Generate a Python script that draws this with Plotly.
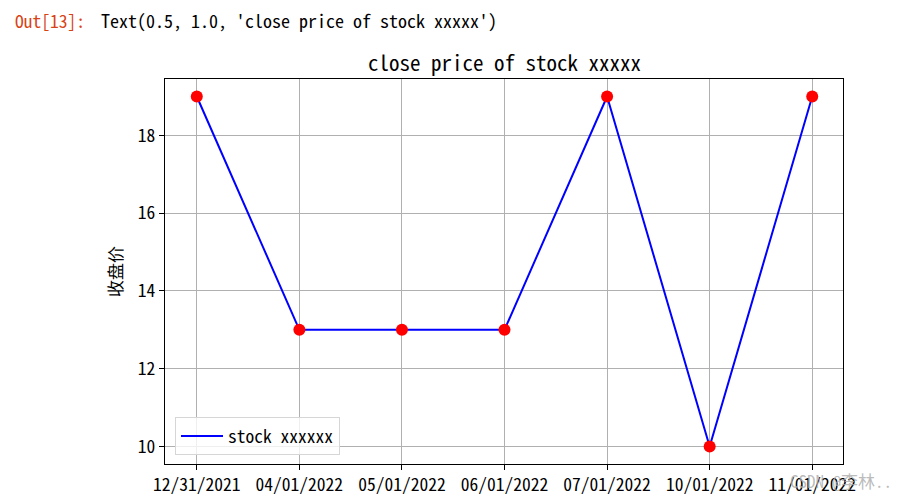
import plotly.graph_objects as go

dates = ["12/31/2021", "04/01/2022", "05/01/2022", "06/01/2022",
         "07/01/2022", "10/01/2022", "11/01/2022"]
close = [19, 13, 13, 13, 19, 10, 19]
y_ticks = [10, 12, 14, 16, 18]

title_text = "close price of stock xxxxx"
series_name = "stock xxxxxx"
y_title = "收盘价"
prompt_text = "Out[13]:"
repr_text = "Text(0.5, 1.0, 'close price of stock xxxxx')"
watermark = "CSDN @李林.."

W, H = 904, 495
OFF = 8  # page body margin offset
# plot area in window pixels
X0, X1, Y0, Y1 = 165, 843, 79, 464
L = X0 - OFF
T = Y0 - OFF
R = W - (X1 - OFF)
B = H - (Y1 - OFF)
PW, PH = X1 - X0, Y1 - Y0

FONT = "Noto Sans Mono CJK SC, SimHei, Noto Sans CJK SC, DejaVu Sans Mono, monospace"

def px(x):
    return (x - X0) / PW

def py(y):
    return (Y1 - y) / PH

fig = go.Figure()
fig.add_trace(go.Scatter(
    x=dates, y=close, mode="lines", name=series_name,
    line=dict(color="#0000ff", width=2),
))
fig.add_trace(go.Scatter(
    x=dates, y=close, mode="markers", showlegend=False,
    marker=dict(color="#ff0000", size=12, line=dict(width=0)),
))

fig.update_layout(
    width=W, height=H,
    margin=dict(l=L, r=R, t=T, b=B, pad=0, autoexpand=False),
    paper_bgcolor="white", plot_bgcolor="white",
    font=dict(family=FONT, size=17, color="#000000"),
    showlegend=True,
    legend=dict(
        x=px(175), y=py(455), xanchor="left", yanchor="bottom",
        bgcolor="rgba(255,255,255,0.8)", bordercolor="#d6d6d6", borderwidth=1,
        font=dict(family=FONT, size=17.5, color="#000000"),
        itemwidth=42, tracegroupgap=0,
    ),
    xaxis=dict(
        type="category", range=[-0.31, 6.30], automargin=False,
        showline=True, linecolor="#000000", linewidth=1.3, mirror=True,
        ticks="outside", ticklen=5, tickcolor="#000000", tickwidth=1.2,
        showgrid=True, gridcolor="#b0b0b0", gridwidth=1,
        tickfont=dict(family=FONT, size=17.5, color="#000000"),
        zeroline=False,
    ),
    yaxis=dict(
        range=[9.55, 19.45], tickvals=y_ticks, automargin=False,
        showline=True, linecolor="#000000", linewidth=1.3, mirror=True,
        ticks="outside", ticklen=5, tickcolor="#000000", tickwidth=1.2,
        showgrid=True, gridcolor="#b0b0b0", gridwidth=1,
        tickfont=dict(family=FONT, size=17.5, color="#000000"),
        zeroline=False,
        title=dict(text=y_title, font=dict(family=FONT, size=17), standoff=10),
    ),
    annotations=[
        dict(text=title_text, xref="paper", yref="paper", x=px(504), y=py(62),
             xanchor="center", yanchor="middle", showarrow=False,
             font=dict(family=FONT, size=21, color="#000000")),
        dict(text=prompt_text, xref="paper", yref="paper", x=px(13), y=py(20),
             xanchor="left", yanchor="middle", showarrow=False,
             font=dict(family=FONT, size=17.5, color="#d84315")),
        dict(text=repr_text, xref="paper", yref="paper", x=px(99), y=py(20),
             xanchor="left", yanchor="middle", showarrow=False,
             font=dict(family=FONT, size=18, color="#000000")),
        dict(text=watermark, xref="paper", yref="paper", x=px(788), y=py(481),
             xanchor="left", yanchor="middle", showarrow=False,
             font=dict(family=FONT, size=17, color="rgba(170,170,170,0.8)")),
    ],
)

fig.write_html("out.html")
